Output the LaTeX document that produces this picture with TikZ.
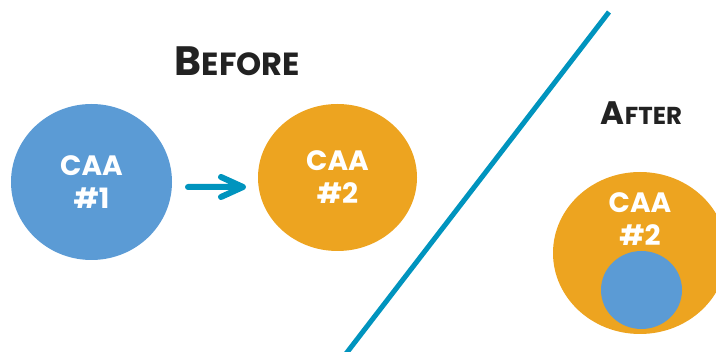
\documentclass[tikz,border=0pt]{standalone}
\usepackage{fontspec}
\setmainfont{Poppins}
\definecolor{caablue}{HTML}{5B9BD5}
\definecolor{caaorange}{HTML}{EDA420}
\definecolor{divline}{HTML}{0094BE}
\definecolor{titlegray}{HTML}{222222}
\tikzset{
  caa/.style={ellipse, inner sep=0pt, text=white, align=center,
    font=\fontsize{28}{34}\selectfont\bfseries},
  title/.style={text=titlegray, inner sep=0pt, anchor=base},
}
\usetikzlibrary{shapes.geometric}
\begin{document}
\begin{tikzpicture}[x=1pt,y=-1pt]
\useasboundingbox (0,0) rectangle (716,352);
% before
\node[caa, fill=caablue, minimum width=161pt, minimum height=156pt] (c1) at (91.5,182) {CAA\\[-1pt]\#1};
\node[caa, fill=caaorange, minimum width=159pt, minimum height=147pt] (c2) at (337.5,177.5) {CAA\\[-1pt]\#2};
\node[title] (before) at (237.5,76) {\bfseries\fontsize{41}{43}\selectfont B\fontsize{32}{33}\selectfont EFORE};
% arrow
\coordinate (a1) at (188,187);
\coordinate (a2) at (243,187);
\draw[divline, line width=6pt, line cap=round, line join=round]
  (a1) -- (a2) (a2) ++(-22,-10) -- (a2) -- ++(-22,10);
% divider
\coordinate (d1) at (609,12);
\coordinate (d2) at (345,355);
\draw[divline, line width=5pt] (d1) -- (d2);
% after
\node[title] (after) at (641.5,125) {\bfseries\fontsize{32.5}{34}\selectfont A\fontsize{24.5}{26}\selectfont FTER};
\node[ellipse, fill=caaorange, minimum width=174pt, minimum height=162pt, inner sep=0pt] (c3) at (640,253) {};
\node[caa, fill=caablue, minimum width=81pt, minimum height=78pt] (c4) at (641.5,290) {};
\node[text=white, align=center, inner sep=0pt, font=\fontsize{28}{34}\selectfont\bfseries] (c3t) at (640,219) {CAA\\[-1pt]\#2};
\end{tikzpicture}
\end{document}
